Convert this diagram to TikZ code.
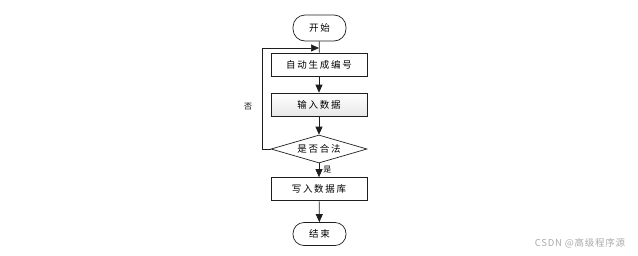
\documentclass[tikz,border=0pt]{standalone}
\usepackage{fontspec}
\newfontfamily\cjk{Noto Sans CJK SC}[LetterSpace=18]
\newfontfamily\cjkmark{Noto Sans CJK SC}
\newfontfamily\cjkwide{Noto Sans CJK SC}[LetterSpace=8]
\usepackage{tikz}
\usetikzlibrary{arrows.meta, positioning, calc, shapes.geometric}
\definecolor{linegray}{RGB}{30,30,30}
\definecolor{markgray}{RGB}{170,170,170}
\tikzset{
  flow/.style={draw=linegray, line width=0.7pt},
  termbox/.style={flow, rounded corners=12pt, minimum width=53pt, minimum height=26pt, inner sep=0pt, font=\cjk\fontsize{9.5}{11}\selectfont},
  procbox/.style={flow, minimum width=96pt, minimum height=23pt, inner sep=0pt, font=\cjk\fontsize{9.5}{11}\selectfont},
  checkbox/.style={flow, diamond, aspect=3.4, minimum width=96pt, minimum height=28pt, inner sep=0pt, font=\cjk\fontsize{9.5}{11}\selectfont},
  arr/.style={flow, -{Triangle[length=8pt, width=7pt]}}
}
\begin{document}
\begin{tikzpicture}[x=1pt, y=-1pt]
  \useasboundingbox (0,0) rectangle (638,255);
  % flow steps
  \node[termbox] (start) at (319.5,28) {开始};
  \node[procbox] (gen) at (319,64.5) {自动生成编号};
  \node[procbox, top color=white, bottom color=gray!18] (input) at (319,104.5) {输入数据};
  \node[checkbox] (chk) at (319,149) {是否合法};
  \node[procbox] (save) at (319,189) {写入数据库};
  \node[termbox, minimum height=23pt, rounded corners=11pt] (stop) at (319.5,234) {结束};
  \coordinate (join) at (319,48);
  % connectors
  \draw[flow] (start) -- (gen);
  \draw[arr] (gen) -- (input);
  \draw[arr] (input) -- (chk);
  \draw[arr] (chk) -- node[right, pos=0.45, inner sep=4pt, font=\cjkmark\fontsize{8}{9}\selectfont] {是} (save);
  \draw[arr] (save) -- (stop);
  \draw[arr] (chk.west) -- ++(-8,0) |- (join);
  \node[font=\cjkmark\fontsize{8}{9}\selectfont] (no) at (248,107) {否};
  % watermark
  \node[markgray, font=\cjkwide\fontsize{9.5}{11}\selectfont] (mark) at (580,243) {CSDN @高级程序源};
\end{tikzpicture}
\end{document}
